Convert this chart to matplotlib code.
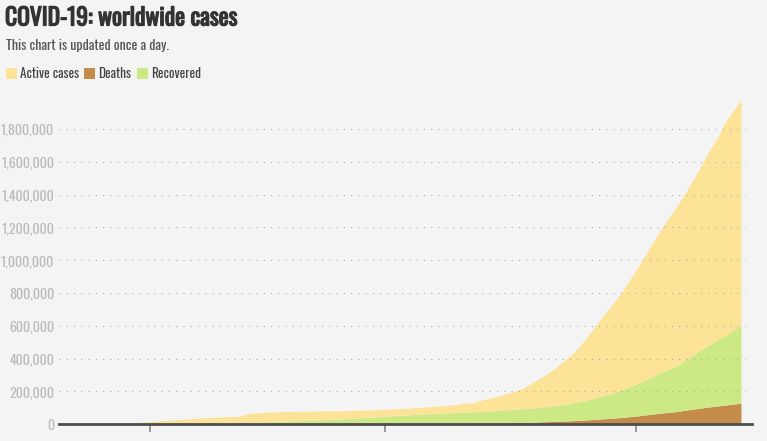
import numpy as np
import pandas as pd
import matplotlib
matplotlib.use("Agg")
import matplotlib.pyplot as plt
import matplotlib.dates as mdates
import matplotlib.patheffects as pe
from matplotlib.patches import Rectangle

# daily worldwide totals, Jan 22 - Apr 14 2020
start_date = "2020-01-22"
confirmed = [555, 654, 941, 1434, 2118, 2927, 5578, 6166, 8234, 9927,
             12038, 16787, 19887, 23898, 27643, 30802, 34395, 37129, 40160, 42769,
             44811, 45229, 60374, 66887, 69032, 71226, 73260, 75138, 75641, 76199,
             76843, 78599, 78985, 79570, 80415, 81397, 82756, 84124, 86013,
             88371, 90309, 92844, 95124, 97886, 101800, 105836, 109835, 113582, 118582,
             125865, 128343, 145193, 156097, 167449, 181531, 197146, 214910, 242708, 272166,
             304524, 336953, 378235, 418045, 467653, 529591, 593291, 660706, 720117, 782365,
             857487,
             932605, 1013157, 1095917, 1176060, 1249754, 1321481, 1396476, 1480202, 1565278, 1657526,
             1735650, 1834721, 1904838, 1976191]
deaths = [17, 18, 26, 42, 56, 82, 131, 133, 171, 213,
          259, 362, 426, 492, 564, 634, 719, 806, 906, 1013,
          1113, 1118, 1371, 1523, 1666, 1770, 1868, 2007, 2122, 2247,
          2251, 2458, 2469, 2629, 2708, 2770, 2814, 2872, 2941,
          2996, 3085, 3160, 3254, 3348, 3460, 3558, 3802, 3988, 4262,
          4615, 4720, 5404, 5819, 6440, 7126, 7905, 8733, 9867, 11299,
          12973, 14651, 16505, 18625, 21181, 23970, 27198, 30652, 33925, 37582,
          42107,
          46809, 52983, 58787, 64606, 69374, 74565, 81865, 88338, 95455, 102525,
          108502, 114090, 119482, 125984]
recovered = [28, 30, 36, 39, 52, 61, 107, 126, 143, 222,
             284, 472, 623, 852, 1124, 1487, 2011, 2616, 3244, 3946,
             4683, 5150, 6295, 8058, 9395, 10865, 12583, 14352, 16121, 18177,
             18890, 22886, 23394, 25227, 27905, 30384, 33277, 36711, 39782,
             42716, 45602, 48228, 51170, 53796, 55865, 58358, 60694, 62494, 64404,
             67003, 68324, 70251, 72624, 76034, 78088, 80840, 83207, 84854, 87256,
             91499, 97704, 98334, 107990, 113787, 122150, 130915, 139415, 149082, 164566,
             178034,
             193177, 210263, 225796, 246152, 260012, 276515, 300054, 328661, 353975, 376096,
             402110, 421722, 448655, 474261]

series_names = ["Active cases", "Deaths", "Recovered"]
series_colors = ["#fce398", "#c48b4b", "#cde985"]
y_ticks = [0, 200000, 400000, 600000, 800000, 1000000, 1200000, 1400000, 1600000, 1800000]
x_ticks = ["2020-02-01", "2020-03-01", "2020-04-01"]

dates = pd.date_range(start_date, periods=len(confirmed))
confirmed = np.array(confirmed)
deaths = np.array(deaths)
recovered = np.array(recovered)
active = confirmed - deaths - recovered

font = ["Oswald", "DejaVu Sans"]
bg = "#f4f4f4"

fig = plt.figure(figsize=(7.67, 4.41), dpi=100, facecolor=bg)
W, H = 767.0, 441.0
ax = fig.add_axes([59 / W, 16.7 / H, (752 - 59) / W, (424.3 - 96.2) / H])
ax.set_facecolor(bg)

x = mdates.date2num(dates)
ax.stackplot(x, deaths, recovered, active,
             colors=[series_colors[1], series_colors[2], series_colors[0]],
             linewidth=0, zorder=1)

ax.set_xlim(x[0] - 1.25, x[-1] + 1.3)
ax.set_ylim(0, 2000000)

# dotted gridlines over the areas
ax.hlines(y_ticks[1:], 0, 0.99, transform=ax.get_yaxis_transform(),
          colors="#a4a4a4", linewidth=0.75, linestyles=(0, (1, 6)), zorder=2)

ax.set_yticks(y_ticks)
ax.set_yticklabels(["{:,}".format(v) for v in y_ticks], family=font,
                   fontsize=10, color="#bababa")
ax.tick_params(axis="y", length=0, pad=3.5)

ax.set_xticks(mdates.date2num(pd.to_datetime(x_ticks)))
ax.xaxis.set_major_formatter(mdates.DateFormatter("%b"))
ax.tick_params(axis="x", length=6, width=1.2, color="#888888", pad=6,
               labelsize=10.5, labelcolor="#888888")
for lab in ax.get_xticklabels():
    lab.set_family(font)

for s in ["top", "right", "left"]:
    ax.spines[s].set_visible(False)
ax.spines["bottom"].set_color("#4d4d4d")
ax.spines["bottom"].set_linewidth(2)
ax.spines["bottom"].set_zorder(3)

# title, subtitle, legend
title = fig.text(5 / W, 1 - 18 / H, "COVID-19: worldwide cases", family=font,
                 fontsize=17, color="#333333", va="center", ha="left")
title.set_path_effects([pe.withStroke(linewidth=0.9, foreground="#333333")])
fig.text(6 / W, 1 - 45 / H, "This chart is updated once a day.", family=font,
         fontsize=10, color="#555555", va="center", ha="left")

leg_x = [6, 84, 137]
for lx, name, col in zip(leg_x, series_names, series_colors):
    fig.patches.append(Rectangle((lx / W, 1 - 78.5 / H), 10.5 / W, 10.5 / H,
                                 transform=fig.transFigure, facecolor=col,
                                 edgecolor="none"))
    fig.text((lx + 14.5) / W, 1 - 73 / H, name, family=font, fontsize=9.5,
             color="#444444", va="center", ha="left")

fig.savefig("out.png", dpi=100, facecolor=bg)
